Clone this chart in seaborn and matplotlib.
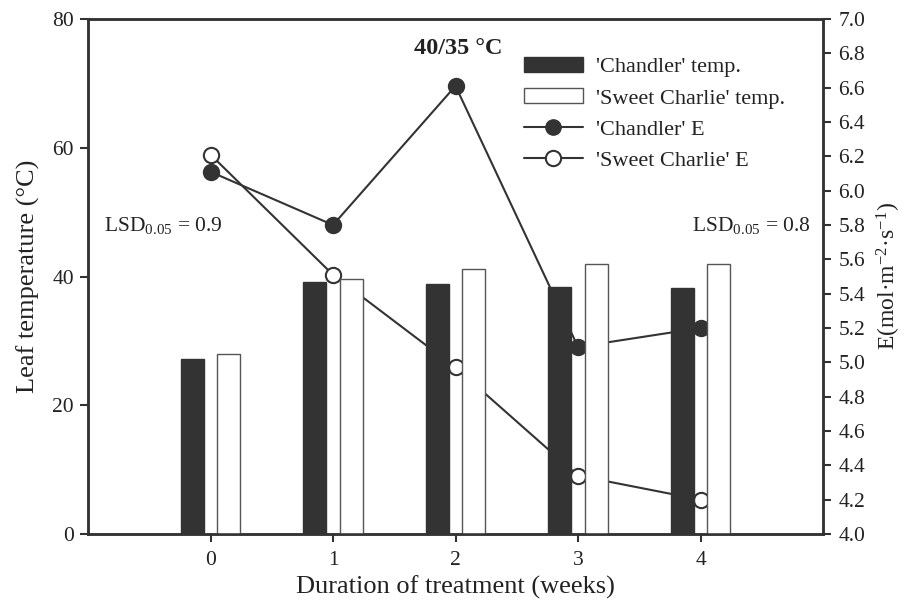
import matplotlib
matplotlib.use("Agg")
import matplotlib.pyplot as plt
from matplotlib.patches import Patch
from matplotlib.lines import Line2D
import seaborn as sns
import pandas as pd

weeks = [0, 1, 2, 3, 4]
cultivars = ["'Chandler'", "'Sweet Charlie'"]
chandler_temp = [27.2, 39.1, 38.8, 38.4, 38.2]
sweet_temp = [27.9, 39.6, 41.1, 41.9, 41.9]
chandler_E = [6.11, 5.80, 6.61, 5.09, 5.20]
sweet_E = [6.21, 5.51, 4.97, 4.34, 4.20]
title_text = "40/35 °C"
lsd_left = "LSD$_{\\mathrm{0.05}}$ = 0.9"
lsd_right = "LSD$_{\\mathrm{0.05}}$ = 0.8"
legend_labels = ["'Chandler' temp.", "'Sweet Charlie' temp.", "'Chandler' E", "'Sweet Charlie' E"]

sns.set_theme(style="ticks")
plt.rcParams['font.family'] = ['Liberation Serif', 'DejaVu Serif']
plt.rcParams['mathtext.fontset'] = 'custom'
plt.rcParams['mathtext.rm'] = 'Liberation Serif'
plt.rcParams['mathtext.it'] = 'Liberation Serif:italic'
plt.rcParams['mathtext.bf'] = 'Liberation Serif:bold'

DARK = '#333333'
TXT = '#222222'

df = pd.DataFrame({
    'week': weeks * 2,
    'temp': chandler_temp + sweet_temp,
    'cultivar': [cultivars[0]] * 5 + [cultivars[1]] * 5,
})

fig = plt.figure(figsize=(9.07, 6.02), dpi=100)
ax = fig.add_axes([88 / 907, 1 - 534 / 602, (823 - 88) / 907, (534 - 19) / 602])
ax2 = ax.twinx()

sns.barplot(data=df, x='week', y='temp', hue='cultivar', ax=ax,
            palette=[DARK, 'white'], width=0.6, gap=0.37,
            edgecolor=DARK, linewidth=1.0, legend=False, errorbar=None)
for p in ax.patches:
    if p.get_facecolor()[0] > 0.5:
        p.set_edgecolor('#555555')

sns.lineplot(x=weeks, y=chandler_E, ax=ax2, color=DARK, lw=1.5, marker='o',
             markersize=11, markerfacecolor=DARK, markeredgecolor=DARK,
             markeredgewidth=1.5)
sns.lineplot(x=weeks, y=sweet_E, ax=ax2, color=DARK, lw=1.5, marker='o',
             markersize=11, markerfacecolor='white', markeredgecolor=DARK,
             markeredgewidth=1.5)

ax2.set_zorder(ax.get_zorder() - 1)
ax.patch.set_visible(False)
ax2.patch.set_visible(True)
ax2.patch.set_facecolor('white')

ax.set_xlim(-1, 5)
ax.set_ylim(0, 80)
ax.set_yticks([0, 20, 40, 60, 80])
ax2.set_ylim(4.0, 7.0)
ax2.set_yticks([4.0 + 0.2 * i for i in range(16)])
ax2.set_yticklabels([f"{4.0 + 0.2 * i:.1f}" for i in range(16)])
ax.set_xticks(weeks)
ax.set_xticklabels([str(w) for w in weeks])

for a in (ax, ax2):
    for s in a.spines.values():
        s.set_color(DARK)
        s.set_linewidth(1.8)
    a.tick_params(colors=DARK, labelcolor=TXT, width=1.5, length=6,
                  direction='out', labelsize=15.5)
ax2.tick_params(axis='y', pad=5)
ax.tick_params(axis='x', pad=6)
ax.tick_params(axis='y', pad=4)

ax.set_xlabel('Duration of treatment (weeks)', fontsize=19, color=TXT, labelpad=4)
ax.set_ylabel('Leaf temperature (°C)', fontsize=19, color=TXT, labelpad=9)
ax2.set_ylabel('E(mol·m$^{\\mathrm{-2}}$·s$^{\\mathrm{-1}}$)', fontsize=17, color=TXT, labelpad=7)

fig.text(458 / 907, 1 - 49 / 602, title_text, fontsize=17.5, fontweight='bold',
         color=TXT, ha='center', va='center')
fig.text(104 / 907, 1 - 226 / 602, lsd_left, fontsize=15.5, color=TXT, ha='left', va='center')
fig.text(692 / 907, 1 - 226 / 602, lsd_right, fontsize=15.5, color=TXT, ha='left', va='center')

handles = [
    Patch(facecolor=DARK, edgecolor=DARK),
    Patch(facecolor='white', edgecolor='#555555', linewidth=1.0),
    Line2D([], [], color=DARK, lw=1.5, marker='o', markersize=11,
           markerfacecolor=DARK, markeredgecolor=DARK),
    Line2D([], [], color=DARK, lw=1.5, marker='o', markersize=11,
           markerfacecolor='white', markeredgecolor=DARK, markeredgewidth=1.5),
]
ax.legend(handles=handles, labels=legend_labels, loc='upper left',
          bbox_to_anchor=(524 / 907, 1 - 57 / 602), bbox_transform=fig.transFigure,
          frameon=False, fontsize=16, handlelength=2.65, handleheight=0.68,
          handletextpad=0.6, labelspacing=0.48, borderpad=0, borderaxespad=0,
          labelcolor=TXT)

fig.savefig('out.png', dpi=100)
